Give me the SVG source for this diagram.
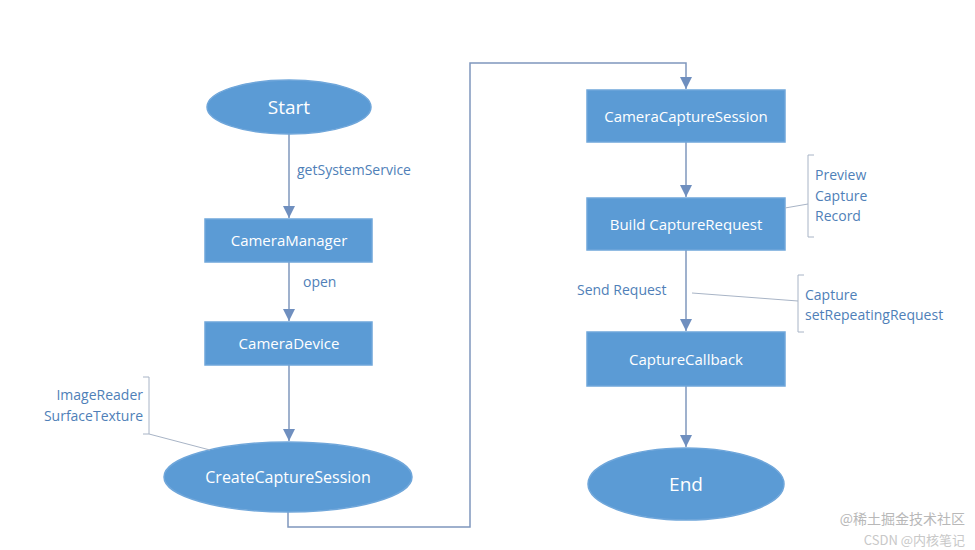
<svg xmlns="http://www.w3.org/2000/svg" width="975" height="550" viewBox="0 0 975 550">
<defs>
<marker id="ar" viewBox="0 0 10 10" refX="10" refY="5" markerWidth="8" markerHeight="8" orient="auto"><path d="M0,0L10,5L0,10z" fill="#6f8fbf"/></marker>
<style>
.n{fill:#5b9bd5;stroke:#6fa6da;stroke-width:1.5}
.t{fill:#fff;font-family:"Open Sans","Liberation Sans",sans-serif;font-size:15px;text-anchor:middle;dominant-baseline:central}
.tl{fill:#fff;font-family:"Open Sans","Liberation Sans",sans-serif;font-size:19px;text-anchor:middle;dominant-baseline:central}
.l{fill:#4f7fb8;font-family:"Open Sans","Liberation Sans",sans-serif;font-size:14px}
.c{fill:none;stroke:#7f97bd;stroke-width:1.5}
.b{fill:none;stroke:#a8b4c6;stroke-width:1}
</style>
</defs>
<rect width="975" height="550" fill="#fff"/>
<g id="connectors">
<line class="c" x1="289" y1="134" x2="289" y2="218" marker-end="url(#ar)"/>
<line class="c" x1="289" y1="262" x2="289" y2="321" marker-end="url(#ar)"/>
<line class="c" x1="289" y1="365" x2="289" y2="441" marker-end="url(#ar)"/>
<polyline class="c" points="288,512 288,527 470,527 470,63 686,63 686,89" marker-end="url(#ar)"/>
<line class="c" x1="686" y1="142" x2="686" y2="197" marker-end="url(#ar)"/>
<line class="c" x1="686" y1="250" x2="686" y2="331" marker-end="url(#ar)"/>
<line class="c" x1="686" y1="386" x2="686" y2="447" marker-end="url(#ar)"/>
</g>
<g id="start"><ellipse class="n" cx="289" cy="107" rx="82" ry="27"/><text class="tl" x="289" y="107">Start</text></g>
<g id="cameraManager"><rect class="n" x="205" y="219" width="167" height="43"/><text class="t" x="289" y="240">CameraManager</text></g>
<g id="cameraDevice"><rect class="n" x="205" y="322" width="167" height="43"/><text class="t" x="289" y="343">CameraDevice</text></g>
<g id="createCaptureSession"><ellipse class="n" cx="288" cy="477" rx="124" ry="35"/><text class="t" x="288" y="477" style="font-size:16px">CreateCaptureSession</text></g>
<g id="cameraCaptureSession"><rect class="n" x="587" y="90" width="198" height="52"/><text class="t" x="686" y="116">CameraCaptureSession</text></g>
<g id="buildCaptureRequest"><rect class="n" x="587" y="198" width="198" height="52"/><text class="t" x="686" y="224">Build CaptureRequest</text></g>
<g id="captureCallback"><rect class="n" x="587" y="332" width="198" height="54"/><text class="t" x="686" y="359">CaptureCallback</text></g>
<g id="end"><ellipse class="n" cx="686" cy="484" rx="98" ry="36"/><text class="tl" x="686" y="484">End</text></g>
<g id="labels">
<text class="l" x="297" y="175">getSystemService</text>
<text class="l" x="303" y="287">open</text>
<text class="l" x="143" y="400" text-anchor="end">ImageReader</text>
<text class="l" x="143" y="421" text-anchor="end">SurfaceTexture</text>
<polyline class="b" points="143,377 149,377 149,434 143,434"/>
<line class="b" x1="149" y1="434" x2="210" y2="450"/>
<text class="l" x="815" y="180">Preview</text>
<text class="l" x="815" y="201">Capture</text>
<text class="l" x="815" y="221">Record</text>
<polyline class="b" points="814,155 808,155 808,237 814,237"/>
<line class="b" x1="785" y1="208" x2="808" y2="204"/>
<text class="l" x="577" y="295">Send Request</text>
<text class="l" x="805" y="300">Capture</text>
<text class="l" x="805" y="320">setRepeatingRequest</text>
<polyline class="b" points="804,275 798,275 798,332 804,332"/>
<line class="b" x1="692" y1="293" x2="798" y2="301"/>
</g>
<text x="965" y="524" text-anchor="end" fill="#b8b8b8" font-family="'Noto Sans CJK SC',sans-serif" font-size="14">@稀土掘金技术社区</text>
<text x="965" y="545" text-anchor="end" fill="#c8c8c8" font-family="'Noto Sans CJK SC',sans-serif" font-size="13">CSDN @内核笔记</text>
</svg>
